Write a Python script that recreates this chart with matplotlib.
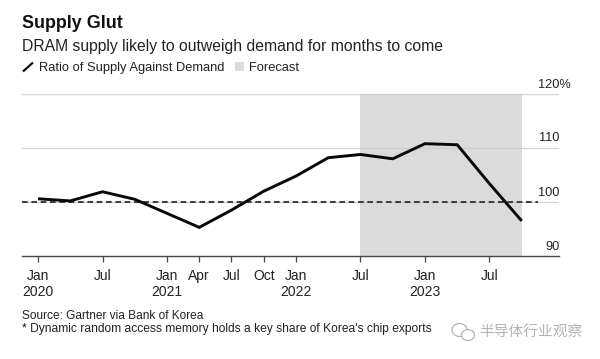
import matplotlib
matplotlib.use("Agg")
import matplotlib.pyplot as plt
from matplotlib.patches import Rectangle, Ellipse
from matplotlib.lines import Line2D

plt.rcParams['font.family'] = ['Liberation Sans', 'Noto Sans CJK SC', 'DejaVu Sans']

# months since Jan 2020
months = [0, 3, 6, 9, 12, 15, 18, 21, 24, 27, 30, 33, 36, 39, 42, 45]
ratio = [100.6, 100.2, 101.9, 100.5, 97.9, 95.3, 98.5, 102.0, 104.8, 108.2, 108.8, 108.0, 110.8, 110.6, 103.4, 96.5]
tick_months = [0, 6, 12, 15, 18, 21, 24, 30, 36, 42]
tick_labels = ['Jan\n2020', 'Jul', 'Jan\n2021', 'Apr', 'Jul', 'Oct', 'Jan\n2022', 'Jul', 'Jan\n2023', 'Jul']
y_ticks = [90, 100, 110, 120]
y_labels = ['90', '100', '110', '120%']
forecast_start, forecast_end = 30, 45

W, H = 600, 359
fig = plt.figure(figsize=(W / 100, H / 100), dpi=100, facecolor='white')
ax = fig.add_axes([22 / W, 1 - 256 / H, (559 - 22) / W, (256 - 94) / H])
ax.set_xlim(-1.49, 48.47)
ax.set_ylim(90, 120)
ax.set_facecolor('none')
for s in ['top', 'left', 'right']:
    ax.spines[s].set_visible(False)
ax.spines['bottom'].set_color('#444444')
ax.spines['bottom'].set_linewidth(1.0)

ax.axvspan(forecast_start, forecast_end, color='#dbdbdb', lw=0, zorder=1)
for y in y_ticks[1:]:
    ax.axhline(y, color='#c8c8c8', lw=0.9, alpha=0.75, zorder=2)
ax.plot([-1.49, 46.5], [100, 100], color='#222222', lw=1.2, dashes=(3.4, 2.2), zorder=3)
ax.plot(months, ratio, color='#080808', lw=2.1, solid_joinstyle='miter', solid_capstyle='butt', zorder=4)

ax.set_xticks(tick_months)
ax.set_xticklabels(tick_labels, fontsize=10, color='#222222', linespacing=1.2)
ax.tick_params(axis='x', length=4, width=0.9, color='#444444', pad=5.5)
ax.set_yticks([])
for y, lab in zip(y_ticks, y_labels):
    ha_x = 571 if lab.endswith('%') else 559.5
    fig.text(ha_x / W, 1 - (256 - (y - 90) * 5.4 - 9.5) / H, lab, ha='right', va='center',
             fontsize=9.2, color='#222222')

def T(x, y, s, **k):
    fig.text(x / W, 1 - y / H, s, va='center', ha='left', **k)

T(22, 23.5, 'Supply Glut', fontsize=12.9, fontweight='bold', color='#111111')
T(22, 46, 'DRAM supply likely to outweigh demand for months to come', fontsize=11.3, color='#222222')
T(39.5, 68, 'Ratio of Supply Against Demand', fontsize=9.25, color='#222222')
T(248.5, 68, 'Forecast', fontsize=9.3, color='#222222')
T(22, 316, 'Source: Gartner via Bank of Korea', fontsize=8.55, color='#222222')
T(22, 329, "* Dynamic random access memory holds a key share of Korea's chip exports", fontsize=8.65, color='#222222')

fig.add_artist(Line2D([23 / W, 33 / W], [1 - 71.5 / H, 1 - 62.5 / H], color='#111111', lw=1.6,
                      solid_capstyle='butt'))
fig.add_artist(Rectangle((235 / W, 1 - 71 / H), 9 / W, 9 / H, color='#dbdbdb', lw=0))

# watermark
wm = '#b4b4b4'
fig.add_artist(Ellipse((459.5 / W, 1 - 330 / H), 15 / W, 13 / H, fc='white', ec=wm, lw=0.9))
fig.add_artist(Ellipse((468 / W, 1 - 335 / H), 13 / W, 11 / H, fc='white', ec=wm, lw=0.9))
T(479, 333, '半导体行业观察', fontsize=10.6, color=wm)

fig.savefig('out.png', dpi=100, facecolor='white')
